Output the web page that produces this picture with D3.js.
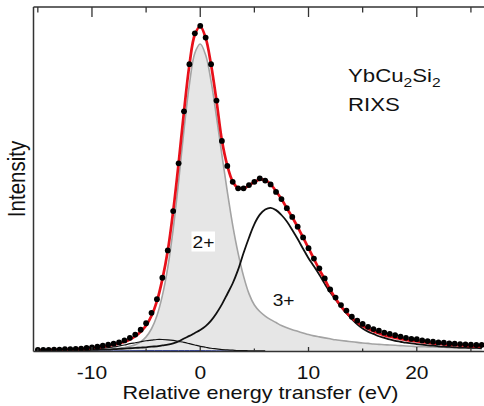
<!DOCTYPE html>
<html><head><meta charset="utf-8">
<script src="https://cdn.jsdelivr.net/npm/d3@7"></script>
<style>body{margin:0;background:#fff}svg{display:block}text{font-family:"Liberation Sans",Arial,sans-serif;fill:#111}</style>
</head><body><svg id="c" width="484" height="406"></svg>
<script>
// energy grid (eV)
const energy = [-15,-14.5,-14,-13.5,-13,-12.5,-12,-11.5,-11,-10.5,-10,-9.5,-9,-8.5,-8,-7.5,-7,-6.5,-6,-5.5,-5,-4.5,-4,-3.5,-3,-2.5,-2,-1.5,-1,-0.5,0,0.5,1,1.5,2,2.5,3,3.5,4,4.5,5,5.5,6,6.5,7,7.5,8,8.5,9,9.5,10,10.5,11,11.5,12,12.5,13,13.5,14,14.5,15,15.5,16,16.5,17,17.5,18,18.5,19,19.5,20,20.5,21,21.5,22,22.5,23,23.5,24,24.5,25,25.5,26];
// measured RIXS intensity (dots)
const measured = [0.005,0.005,0.005,0.006,0.006,0.007,0.007,0.008,0.009,0.011,0.013,0.015,0.018,0.021,0.024,0.028,0.034,0.042,0.052,0.067,0.087,0.119,0.161,0.227,0.311,0.432,0.579,0.739,0.884,0.979,1.002,0.966,0.884,0.772,0.648,0.571,0.522,0.502,0.502,0.512,0.522,0.533,0.526,0.514,0.491,0.469,0.441,0.414,0.384,0.351,0.318,0.286,0.256,0.225,0.191,0.166,0.143,0.126,0.107,0.095,0.085,0.076,0.069,0.064,0.058,0.054,0.050,0.046,0.042,0.039,0.038,0.034,0.032,0.030,0.028,0.027,0.025,0.024,0.023,0.022,0.021,0.020,0.020];
// total fit (red)
const totalFit = [0.004,0.004,0.005,0.005,0.005,0.006,0.006,0.007,0.008,0.009,0.011,0.013,0.015,0.018,0.021,0.025,0.030,0.037,0.047,0.061,0.080,0.110,0.155,0.222,0.310,0.432,0.579,0.739,0.882,0.975,1.000,0.965,0.882,0.772,0.650,0.572,0.523,0.503,0.502,0.511,0.522,0.529,0.527,0.515,0.493,0.469,0.441,0.413,0.383,0.351,0.318,0.285,0.252,0.222,0.190,0.163,0.139,0.120,0.103,0.090,0.079,0.070,0.062,0.056,0.050,0.046,0.042,0.039,0.036,0.033,0.031,0.029,0.027,0.025,0.024,0.022,0.021,0.020,0.019,0.018,0.017,0.016,0.016];
// Yb2+ component (grey, filled)
const yb2 = [0.002,0.002,0.002,0.002,0.003,0.003,0.003,0.003,0.004,0.004,0.005,0.005,0.006,0.007,0.008,0.010,0.012,0.016,0.021,0.030,0.045,0.070,0.110,0.172,0.258,0.376,0.522,0.682,0.822,0.918,0.946,0.912,0.832,0.722,0.605,0.492,0.388,0.302,0.232,0.178,0.143,0.123,0.109,0.098,0.089,0.080,0.073,0.067,0.062,0.057,0.052,0.048,0.045,0.042,0.039,0.036,0.034,0.032,0.030,0.028,0.026,0.025,0.023,0.022,0.021,0.020,0.019,0.018,0.017,0.016,0.015,0.015,0.014,0.014,0.013,0.013,0.012,0.012,0.011,0.011,0.010,0.010,0.010];
// Yb3+ component (black)
const yb3 = [0.002,0.002,0.002,0.002,0.003,0.003,0.003,0.003,0.004,0.004,0.005,0.005,0.006,0.006,0.007,0.008,0.009,0.010,0.011,0.012,0.013,0.015,0.016,0.019,0.021,0.025,0.031,0.040,0.048,0.057,0.066,0.078,0.095,0.118,0.145,0.177,0.210,0.252,0.303,0.350,0.392,0.421,0.437,0.442,0.435,0.420,0.400,0.374,0.346,0.316,0.287,0.262,0.236,0.208,0.182,0.160,0.138,0.118,0.100,0.084,0.071,0.061,0.054,0.047,0.042,0.037,0.033,0.030,0.027,0.025,0.023,0.021,0.019,0.018,0.016,0.015,0.014,0.013,0.012,0.012,0.011,0.011,0.010];
// small satellite component (thin black)
const satEnergy = [-15,-14.5,-14,-13.5,-13,-12.5,-12,-11.5,-11,-10.5,-10,-9.5,-9,-8.5,-8,-7.5,-7,-6.5,-6,-5.5,-5,-4.5,-4,-3.5,-3,-2.5,-2,-1.5,-1,-0.5,0,0.5,1,1.5,2,2.5,3,3.5,4,4.5,5,5.5,6];
const satValues = [0.002,0.002,0.003,0.003,0.003,0.004,0.004,0.005,0.005,0.006,0.007,0.008,0.010,0.012,0.014,0.017,0.020,0.024,0.027,0.030,0.033,0.035,0.037,0.037,0.036,0.034,0.031,0.028,0.024,0.020,0.016,0.013,0.010,0.008,0.006,0.005,0.004,0.003,0.003,0.002,0.002,0.002,0.002];
// weak blue component near baseline
const blueEnergy = [-10.5,-8,-5,-2,0,2,3.5];
const blueValues = [0.001,0.002,0.003,0.003,0.003,0.002,0.001];
// ticks
const majorTicks = [-10,0,10,20];
const minorTicks = [-15,-5,5,15,25];
const tickLabels = ["-10","0","10","20"];

const svg = d3.select("#c");
const x = d3.scaleLinear().domain([-15.4, 26.3]).range([33.5, 485]);
const y = d3.scaleLinear().domain([0, 1.06]).range([351.5, 7]);
const SX = 1.2; // horizontal glyph stretch of the original figure

const pts = (xs, ys) => xs.map((e,i)=>[e, ys[i]]);
const line = d3.line().x(d=>x(d[0])).y(d=>y(d[1])).curve(d3.curveCatmullRom.alpha(0.5));
const area = d3.area().x(d=>x(d[0])).y0(y(0)).y1(d=>y(d[1])).curve(d3.curveCatmullRom.alpha(0.5));

svg.append("clipPath").attr("id","pc").append("rect")
  .attr("x",33.5).attr("y",7).attr("width",452).attr("height",344.5);
const g = svg.append("g").attr("clip-path","url(#pc)");

g.append("path").attr("d", area(pts(energy, yb2))).attr("fill","#e6e6e6");
g.append("path").attr("d", line(pts(energy, yb2))).attr("fill","none").attr("stroke","#a3a3a3").attr("stroke-width",1.6);
g.append("path").attr("d", line(pts(blueEnergy, blueValues))).attr("fill","none").attr("stroke","#3a4aa8").attr("stroke-width",1);
g.append("path").attr("d", line(pts(satEnergy, satValues))).attr("fill","none").attr("stroke","#111").attr("stroke-width",1.2);
g.append("path").attr("d", line(pts(energy, yb3))).attr("fill","none").attr("stroke","#111").attr("stroke-width",1.8);
g.append("path").attr("d", line(pts(energy, totalFit))).attr("fill","none").attr("stroke","#e8101a").attr("stroke-width",2.7);
g.selectAll("circle").data(pts(energy, measured)).join("circle")
  .attr("cx",d=>x(d[0])).attr("cy",d=>y(d[1])).attr("r",2.9).attr("fill","#000");

// frame
const ax = svg.append("g").attr("stroke","#333").attr("fill","none");
ax.append("line").attr("x1",33.5).attr("x2",485).attr("y1",7).attr("y2",7).attr("stroke-width",1.5);
ax.append("line").attr("x1",33.5).attr("x2",485).attr("y1",351.5).attr("y2",351.5).attr("stroke-width",1.5);
ax.append("line").attr("x1",33.5).attr("x2",33.5).attr("y1",7).attr("y2",351.5).attr("stroke-width",1.5);
majorTicks.forEach(t=>{
  ax.append("line").attr("x1",x(t)).attr("x2",x(t)).attr("y1",7).attr("y2",17).attr("stroke-width",1.3);
  ax.append("line").attr("x1",x(t)).attr("x2",x(t)).attr("y1",351.5).attr("y2",347).attr("stroke-width",1.3);
});
minorTicks.forEach(t=>{
  ax.append("line").attr("x1",x(t)).attr("x2",x(t)).attr("y1",7).attr("y2",12.5).attr("stroke-width",1.3);
  ax.append("line").attr("x1",x(t)).attr("x2",x(t)).attr("y1",351.5).attr("y2",348.5).attr("stroke-width",1.3);
});

// tick labels
majorTicks.forEach((t,i)=>{
  svg.append("text").attr("transform",`translate(${x(t)},379) scale(${SX},1)`)
    .attr("text-anchor","middle").attr("font-size",17.5).text(tickLabels[i]);
});
svg.append("text").attr("transform",`translate(260.5,399) scale(${SX},1)`)
  .attr("text-anchor","middle").attr("font-size",18).text("Relative energy transfer (eV)");
svg.append("text").attr("transform",`translate(25,179) rotate(-90) scale(1,${SX})`)
  .attr("text-anchor","middle").attr("font-size",20.5).text("Intensity");

// labels
const l2 = svg.append("g").attr("transform",`translate(${x(0.3)},${y(0.32)})`);
l2.append("rect").attr("x",-12).attr("y",-16).attr("width",23.5).attr("height",20).attr("fill","#fff");
l2.append("text").attr("transform",`scale(${SX},1)`).attr("text-anchor","middle").attr("font-size",16).text("2+");
svg.append("text").attr("transform",`translate(${x(7.7)},${y(0.14)}) scale(${SX},1)`)
  .attr("text-anchor","middle").attr("font-size",16).text("3+");

const t1 = svg.append("text").attr("transform",`translate(348,82) scale(${SX},1)`).attr("font-size",18.5);
t1.append("tspan").text("YbCu");
t1.append("tspan").attr("font-size",13).attr("dy",5).text("2");
t1.append("tspan").attr("dy",-5).text("Si");
t1.append("tspan").attr("font-size",13).attr("dy",5).text("2");
svg.append("text").attr("transform",`translate(348,111) scale(${SX},1)`).attr("font-size",18.5).text("RIXS");
</script></body></html>
